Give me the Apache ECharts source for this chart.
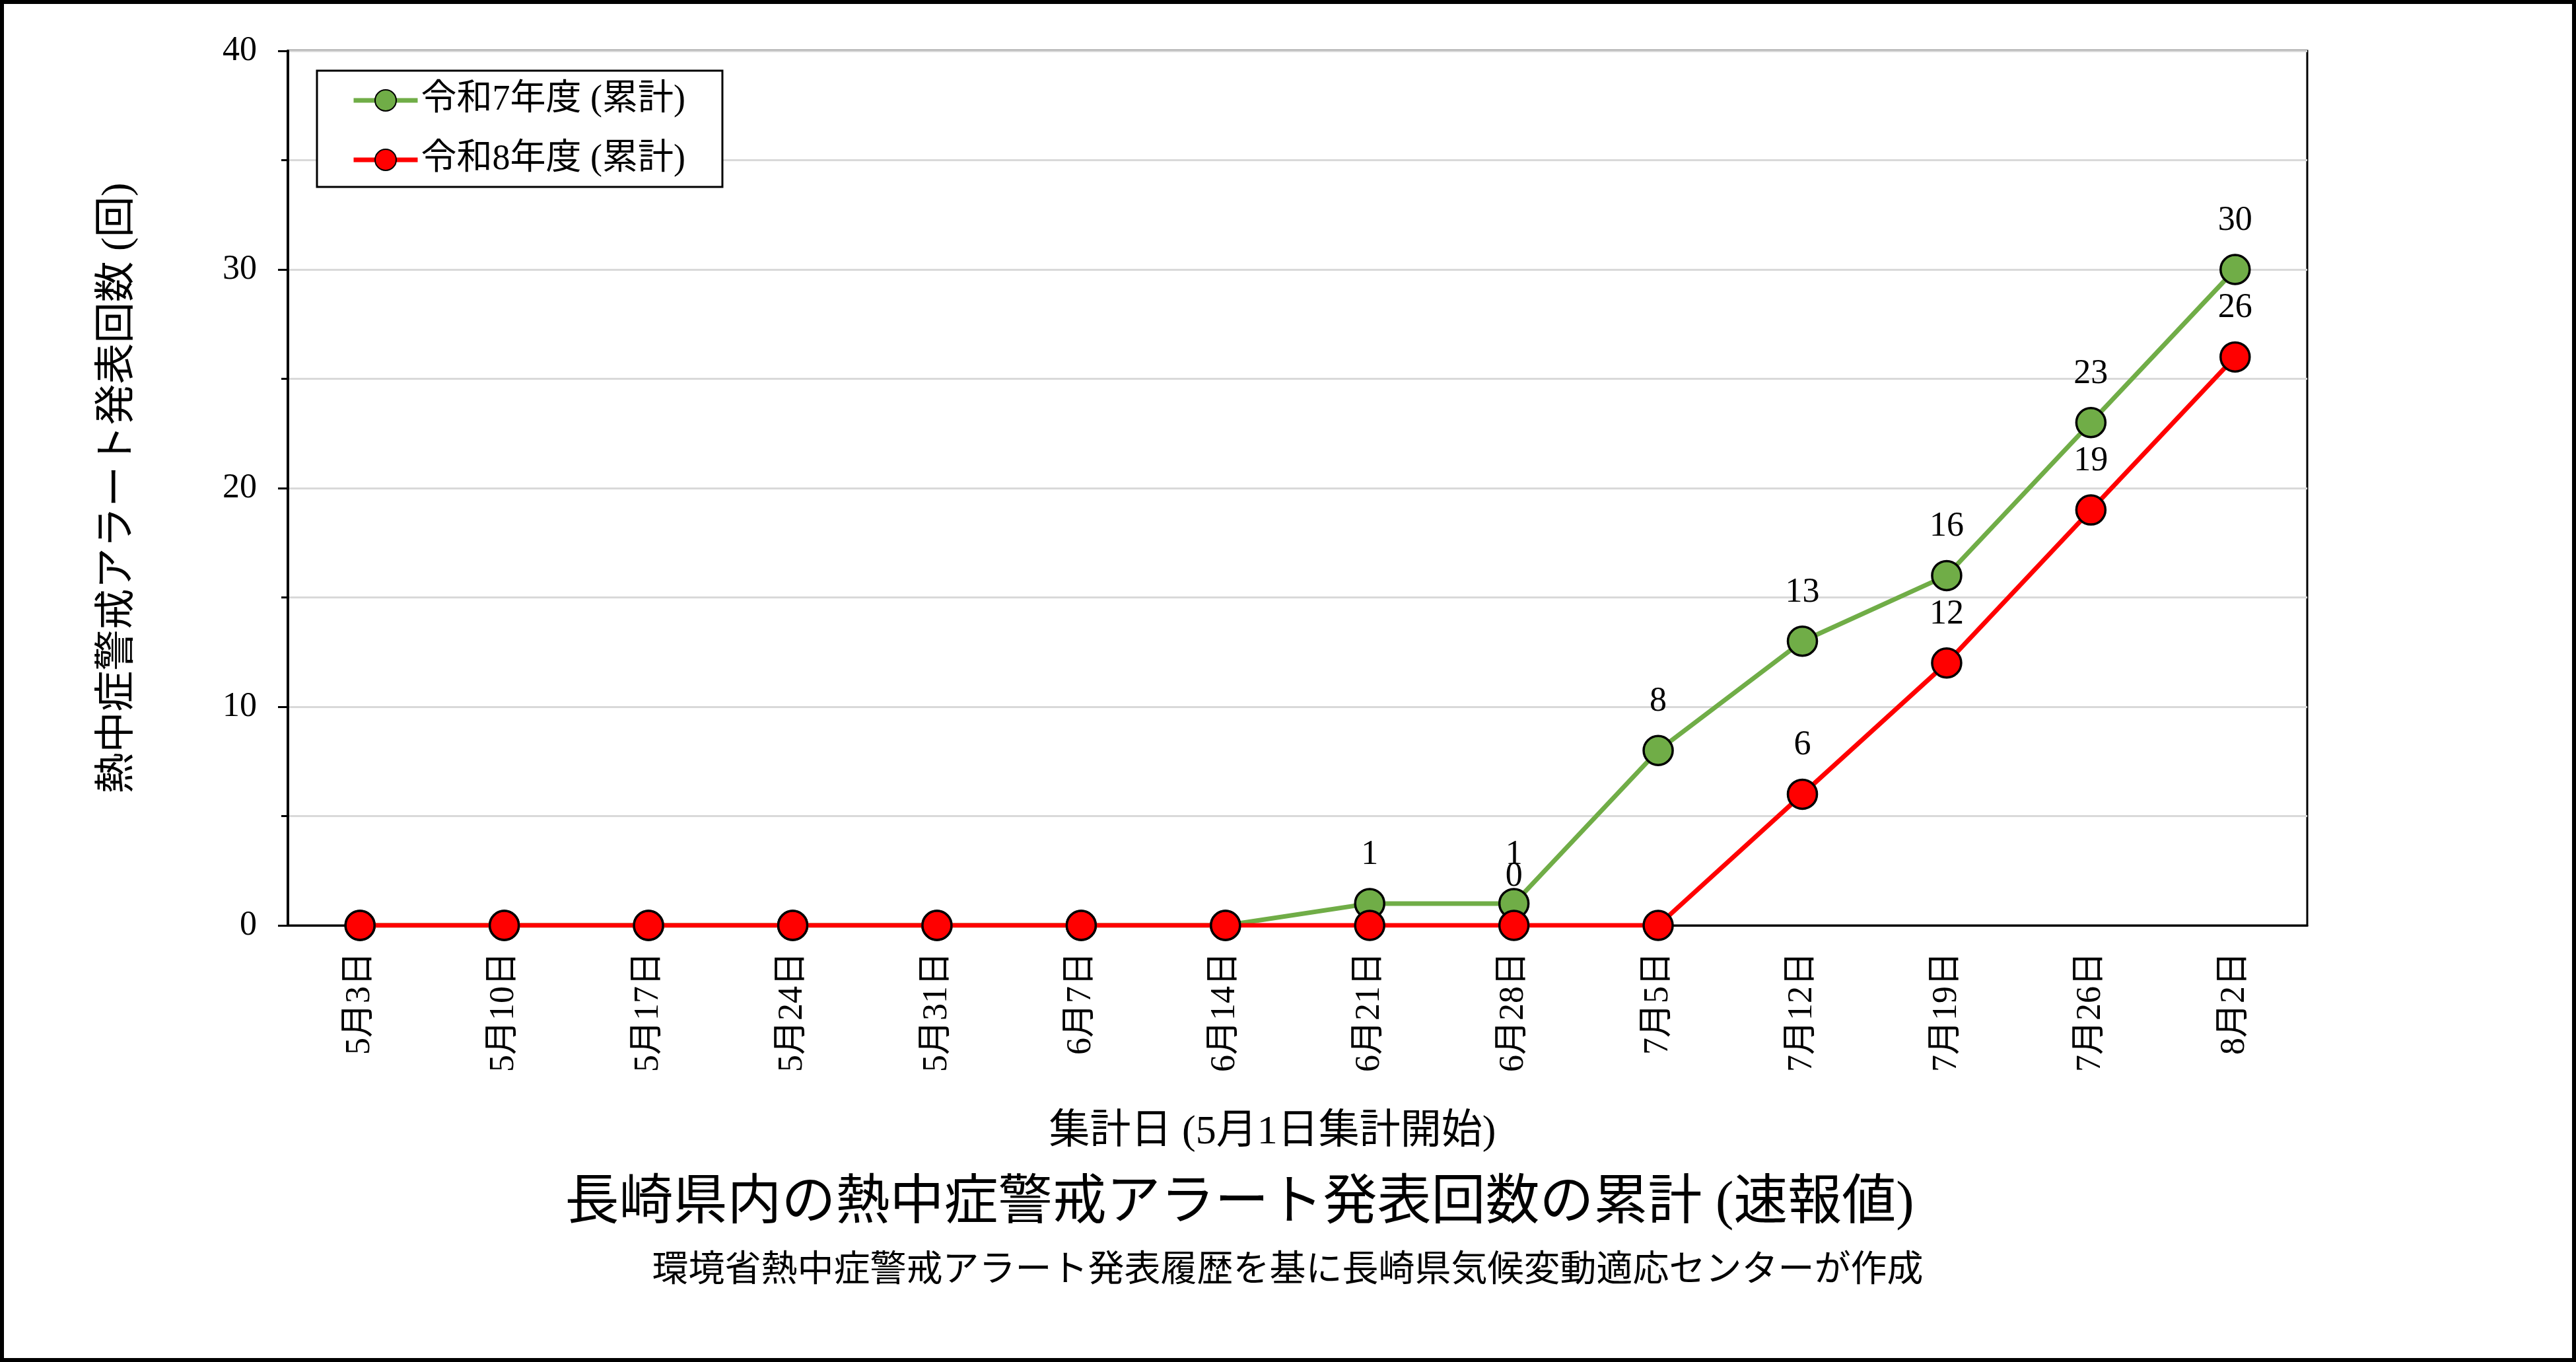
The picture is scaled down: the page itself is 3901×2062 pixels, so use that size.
<!DOCTYPE html>
<html>
<head>
<meta charset="utf-8">
<script src="https://cdn.jsdelivr.net/npm/echarts@6/dist/echarts.min.js"></script>
<style>
  html, body { margin: 0; padding: 0; background: #fff; }
  #chart { width: 3901px; height: 2062px; }
</style>
</head>
<body>
<div id="chart"></div>
<script>
// 集計日
var dates = ['5月3日', '5月10日', '5月17日', '5月24日', '5月31日', '6月7日', '6月14日',
  '6月21日', '6月28日', '7月5日', '7月12日', '7月19日', '7月26日', '8月2日'];
// 令和7年度 (累計)
var r7 = [0, 0, 0, 0, 0, 0, 0, 1, 1, 8, 13, 16, 23, 30];
// 令和8年度 (累計)
var r8 = [0, 0, 0, 0, 0, 0, 0, 0, 0, 0, 6, 12, 19, 26];
// ラベルを表示する点
var r7Labels = [7, 8, 9, 10, 11, 12, 13];
var r8Labels = [8, 10, 11, 12, 13];
var yTicks = [0, 10, 20, 30, 40];

var FONT = "'Liberation Serif', 'Noto Sans CJK JP', serif";

function toItems(values, labelIdx) {
  return values.map(function (v, i) {
    return { value: v, label: { show: labelIdx.indexOf(i) >= 0 } };
  });
}

var myChart = echarts.init(document.getElementById('chart'));

var option = {
  backgroundColor: '#fff',
  animation: false,
  textStyle: { fontFamily: FONT, color: '#000' },
  grid: {
    left: 436, top: 77, right: 407, bottom: 661,
    show: true, borderColor: '#000', borderWidth: 3
  },
  legend: {
    orient: 'vertical',
    left: 480, top: 107,
    padding: [18, 56, 14, 52],
    itemGap: 36,
    itemWidth: 97,
    itemHeight: 40,
    itemTextGap: 10,
    borderColor: '#000',
    borderWidth: 3,
    backgroundColor: '#fff',
    lineStyle: { width: 7 },
    textStyle: { fontFamily: FONT, fontSize: 54, color: '#000' },
    data: ['令和7年度 (累計)', '令和8年度 (累計)']
  },
  xAxis: {
    type: 'category',
    data: dates,
    boundaryGap: true,
    name: '集計日 (5月1日集計開始)',
    nameLocation: 'middle',
    nameGap: 283,
    nameTextStyle: { fontFamily: FONT, fontSize: 62, color: '#000', padding: [0, 76, 0, 0] },
    axisLine: { lineStyle: { color: '#000', width: 3 } },
    axisTick: { show: false },
    axisLabel: {
      rotate: 90, margin: 40, interval: 0,
      fontFamily: FONT, fontSize: 52, color: '#000'
    },
    splitLine: { show: false }
  },
  yAxis: {
    type: 'value',
    min: yTicks[0], max: yTicks[yTicks.length - 1], interval: 10,
    name: '熱中症警戒アラート発表回数 (回)',
    nameLocation: 'middle',
    nameGap: 225,
    nameTextStyle: { fontFamily: FONT, fontSize: 62, color: '#000' },
    axisLine: { show: true, lineStyle: { color: '#000', width: 4 } },
    axisTick: { show: true, length: 15, lineStyle: { color: '#000', width: 3 } },
    minorTick: { show: true, splitNumber: 2, length: 10, lineStyle: { color: '#000', width: 3 } },
    axisLabel: { margin: 47, fontFamily: FONT, fontSize: 52, color: '#000' },
    splitLine: { show: true, lineStyle: { color: '#d9d9d9', width: 3 } },
    minorSplitLine: { show: true, lineStyle: { color: '#d9d9d9', width: 3 } }
  },
  series: [
    {
      name: '令和7年度 (累計)',
      type: 'line',
      data: toItems(r7, r7Labels),
      symbol: 'circle',
      symbolSize: 44,
      lineStyle: { color: '#70ad47', width: 7 },
      itemStyle: { color: '#70ad47', borderColor: '#000', borderWidth: 3.5 },
      label: { position: 'top', distance: 24, fontFamily: FONT, fontSize: 52, color: '#000' },
      z: 3
    },
    {
      name: '令和8年度 (累計)',
      type: 'line',
      data: toItems(r8, r8Labels),
      symbol: 'circle',
      symbolSize: 44,
      lineStyle: { color: '#ff0000', width: 7 },
      itemStyle: { color: '#ff0000', borderColor: '#000', borderWidth: 3.5 },
      label: { position: 'top', distance: 24, fontFamily: FONT, fontSize: 52, color: '#000' },
      z: 4
    }
  ],
  graphic: [
    {
      type: 'text', x: 1877, y: 1823,
      style: {
        text: '長崎県内の熱中症警戒アラート発表回数の累計 (速報値)',
        font: "82px 'Liberation Serif', 'Noto Sans CJK JP', serif",
        fill: '#000', align: 'center', verticalAlign: 'middle'
      }
    },
    {
      type: 'text', x: 1950, y: 1925,
      style: {
        text: '環境省熱中症警戒アラート発表履歴を基に長崎県気候変動適応センターが作成',
        font: "55px 'Liberation Serif', 'Noto Sans CJK JP', serif",
        fill: '#000', align: 'center', verticalAlign: 'middle'
      }
    },
    {
      type: 'rect', silent: true, z: 100,
      shape: { x: 3, y: 3, width: 3895, height: 2056 },
      style: { fill: 'none', stroke: '#000', lineWidth: 6 }
    }
  ]
};

myChart.setOption(option);
</script>
</body>
</html>
